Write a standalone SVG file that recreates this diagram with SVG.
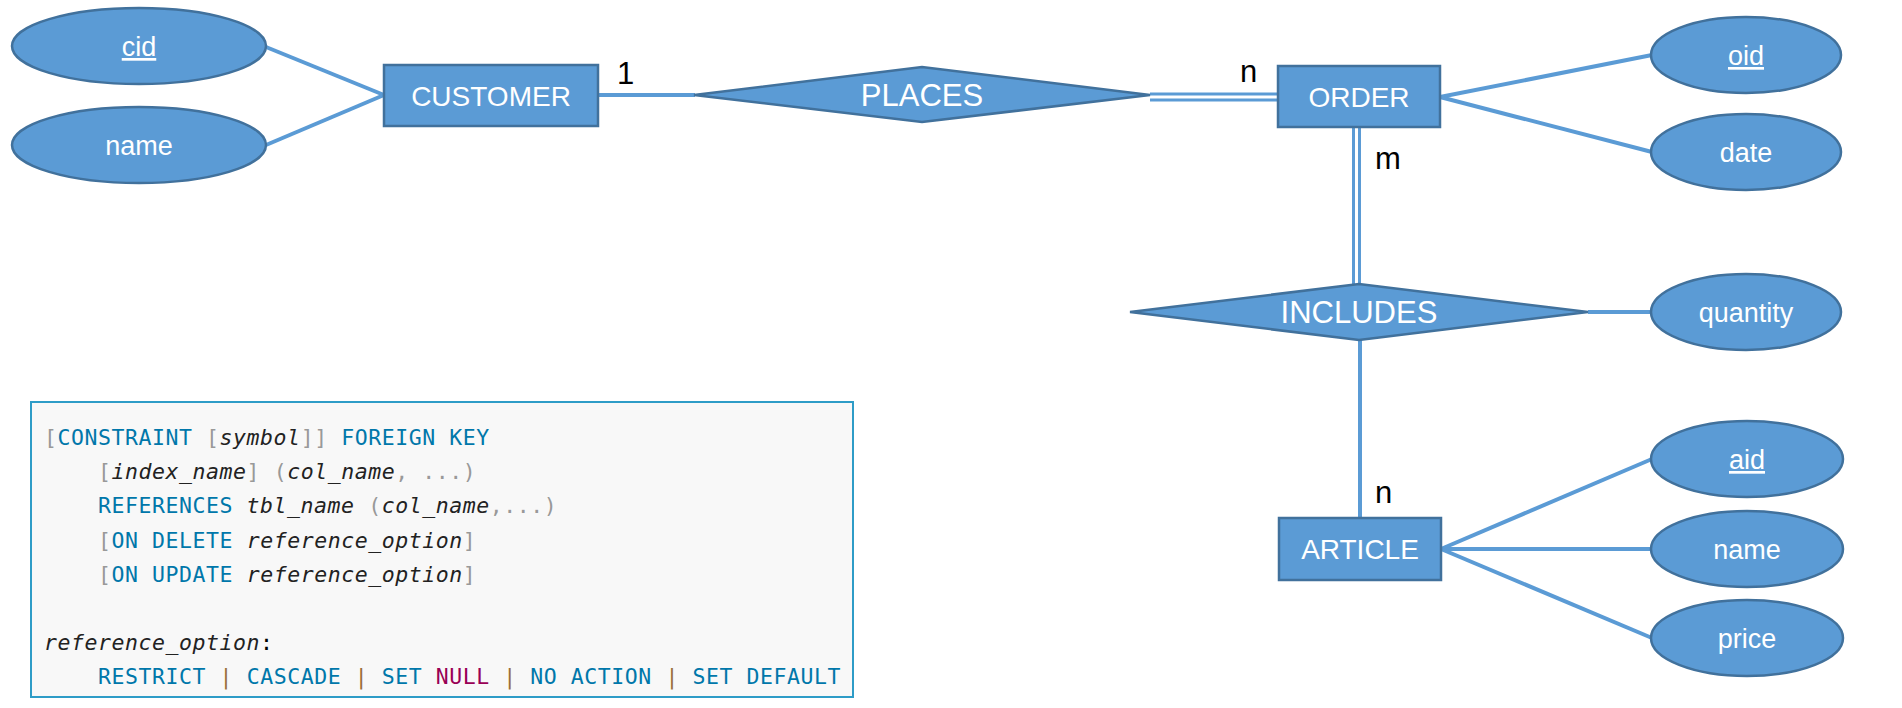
<svg xmlns="http://www.w3.org/2000/svg" width="1902" height="708" viewBox="0 0 1902 708">
<style>
.shape{fill:#5B9BD5;stroke:#41719C;stroke-width:2.5}
.lbl{font-family:"Liberation Sans",Arial,sans-serif;fill:#FFFFFF;text-anchor:middle}
.att{font-size:27px}
.ent{font-size:28px}
.rel{font-size:31px}
.card{font-family:"Liberation Sans",Arial,sans-serif;font-size:31px;fill:#000000}
.conn line{stroke:#5B9BD5;stroke-width:4;fill:none}
.conn line.dbl{stroke-width:3}
.code{font-family:"DejaVu Sans Mono","Liberation Mono",monospace;font-size:21.5px;letter-spacing:0.56px;fill:#000000}
.kw{fill:#0077AA}
.pu{fill:#999999}
.op{fill:#9A6E3A}
.cn{fill:#990055}
.it{font-style:italic;fill:#222222}
</style>
<rect x="0" y="0" width="1902" height="708" fill="#FFFFFF"/>
<g id="connectors" class="conn">
<line x1="266" y1="47" x2="384" y2="95"/>
<line x1="266" y1="145" x2="384" y2="95"/>
<line x1="598" y1="95" x2="695" y2="95"/>
<line class="dbl" x1="1150" y1="94" x2="1278" y2="94"/>
<line class="dbl" x1="1150" y1="100" x2="1278" y2="100"/>
<line x1="1440" y1="97" x2="1652" y2="55"/>
<line x1="1440" y1="97" x2="1652" y2="152"/>
<line class="dbl" x1="1353.5" y1="127" x2="1353.5" y2="286"/>
<line class="dbl" x1="1359.5" y1="127" x2="1359.5" y2="286"/>
<line x1="1588" y1="312" x2="1652" y2="312"/>
<line x1="1360" y1="339" x2="1360" y2="519"/>
<line x1="1441" y1="549" x2="1652" y2="459"/>
<line x1="1441" y1="549" x2="1652" y2="549"/>
<line x1="1441" y1="549" x2="1652" y2="638"/>
</g>
<g id="cid">
<ellipse class="shape" cx="139" cy="46" rx="127" ry="38"/>
<text class="lbl att" x="139" y="56" text-decoration="underline">cid</text>
</g>
<g id="customer-name">
<ellipse class="shape" cx="139" cy="145" rx="127" ry="38"/>
<text class="lbl att" x="139" y="155">name</text>
</g>
<g id="customer">
<rect class="shape" x="384" y="65" width="214" height="61"/>
<text class="lbl ent" x="491" y="106">CUSTOMER</text>
</g>
<g id="places">
<polygon class="shape" points="694,95 922,67 1150,95 922,122"/>
<text class="lbl rel" x="922" y="106">PLACES</text>
</g>
<g id="order">
<rect class="shape" x="1278" y="66" width="162" height="61"/>
<text class="lbl ent" x="1359" y="107">ORDER</text>
</g>
<g id="oid">
<ellipse class="shape" cx="1746" cy="55" rx="95" ry="38"/>
<text class="lbl att" x="1746" y="65" text-decoration="underline">oid</text>
</g>
<g id="date">
<ellipse class="shape" cx="1746" cy="152" rx="95" ry="38"/>
<text class="lbl att" x="1746" y="162">date</text>
</g>
<g id="includes">
<polygon class="shape" points="1130,312 1359,284 1588,312 1359,340"/>
<text class="lbl rel" x="1359" y="323">INCLUDES</text>
</g>
<g id="quantity">
<ellipse class="shape" cx="1746" cy="312" rx="95" ry="38"/>
<text class="lbl att" x="1746" y="322">quantity</text>
</g>
<g id="article">
<rect class="shape" x="1279" y="518" width="162" height="62"/>
<text class="lbl ent" x="1360" y="559">ARTICLE</text>
</g>
<g id="aid">
<ellipse class="shape" cx="1747" cy="459" rx="96" ry="38"/>
<text class="lbl att" x="1747" y="469" text-decoration="underline">aid</text>
</g>
<g id="article-name">
<ellipse class="shape" cx="1747" cy="549" rx="96" ry="38"/>
<text class="lbl att" x="1747" y="559">name</text>
</g>
<g id="price">
<ellipse class="shape" cx="1747" cy="638" rx="96" ry="38"/>
<text class="lbl att" x="1747" y="648">price</text>
</g>
<g id="cardinalities">
<text class="card" x="617" y="84">1</text>
<text class="card" x="1240" y="82">n</text>
<text class="card" x="1375" y="169">m</text>
<text class="card" x="1375" y="503">n</text>
</g>
<g id="code-box">
<rect x="31" y="402" width="822" height="295" fill="#F8F8F8" stroke="#2E9CC7" stroke-width="2"/>
<text class="code" x="44" y="445" xml:space="preserve"><tspan class="pu">[</tspan><tspan class="kw">CONSTRAINT</tspan> <tspan class="pu">[</tspan><tspan class="it">symbol</tspan><tspan class="pu">]]</tspan> <tspan class="kw">FOREIGN</tspan> <tspan class="kw">KEY</tspan></text>
<text class="code" x="44" y="479" xml:space="preserve">    <tspan class="pu">[</tspan><tspan class="it">index_name</tspan><tspan class="pu">]</tspan> <tspan class="pu">(</tspan><tspan class="it">col_name</tspan><tspan class="pu">,</tspan> <tspan class="pu">...)</tspan></text>
<text class="code" x="44" y="513" xml:space="preserve">    <tspan class="kw">REFERENCES</tspan> <tspan class="it">tbl_name</tspan> <tspan class="pu">(</tspan><tspan class="it">col_name</tspan><tspan class="pu">,...)</tspan></text>
<text class="code" x="44" y="548" xml:space="preserve">    <tspan class="pu">[</tspan><tspan class="kw">ON</tspan> <tspan class="kw">DELETE</tspan> <tspan class="it">reference_option</tspan><tspan class="pu">]</tspan></text>
<text class="code" x="44" y="582" xml:space="preserve">    <tspan class="pu">[</tspan><tspan class="kw">ON</tspan> <tspan class="kw">UPDATE</tspan> <tspan class="it">reference_option</tspan><tspan class="pu">]</tspan></text>
<text class="code" x="44" y="650" xml:space="preserve"><tspan class="it">reference_option</tspan>:</text>
<text class="code" x="44" y="684" xml:space="preserve">    <tspan class="kw">RESTRICT</tspan> <tspan class="op">|</tspan> <tspan class="kw">CASCADE</tspan> <tspan class="op">|</tspan> <tspan class="kw">SET</tspan> <tspan class="cn">NULL</tspan> <tspan class="op">|</tspan> <tspan class="kw">NO</tspan> <tspan class="kw">ACTION</tspan> <tspan class="op">|</tspan> <tspan class="kw">SET</tspan> <tspan class="kw">DEFAULT</tspan></text>
</g>
</svg>
